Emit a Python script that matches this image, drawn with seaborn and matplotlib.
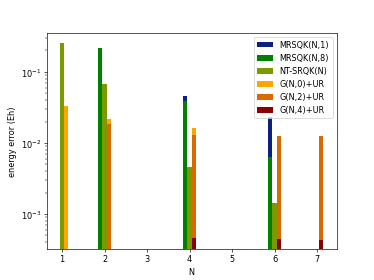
import numpy as np
import pandas as pd
import matplotlib
matplotlib.use("Agg")
import matplotlib.pyplot as plt
import seaborn as sns

# values (energy error in Eh), nan = no bar
N = [1, 2, 4, 6, 7]
mrsqk_1 = [np.nan, np.nan, 0.0458, 0.0231, np.nan]
mrsqk_8 = [np.nan, 0.215, 0.0389, 0.0063, np.nan]
nt_srqk = [0.252, 0.067, 0.00455, 0.00141, np.nan]
g_0_ur = [0.0328, 0.0215, 0.0162, np.nan, np.nan]
g_2_ur = [np.nan, 0.0182, 0.0129, 0.0124, 0.0124]
g_4_ur = [np.nan, np.nan, 0.000458, 0.00045, 0.00043]

series = [
    ("MRSQK(N,1)", mrsqk_1, -0.1, "#0b2180"),
    ("MRSQK(N,8)", mrsqk_8, -0.1, "#008000"),
    ("NT-SRQK(N)", nt_srqk, 0.0, "#7a9a00"),
    ("G(N,0)+UR", g_0_ur, 0.1, "#ffa500"),
    ("G(N,2)+UR", g_2_ur, 0.1, "#d96a00"),
    ("G(N,4)+UR", g_4_ur, 0.1, "#8b0000"),
]
bar_w = 0.1

# plain matplotlib look, like the original
plt.rcdefaults()
plt.rcParams["font.family"] = ["DejaVu Sans"]

fig, ax = plt.subplots(figsize=(6.4, 4.8), dpi=374 / 6.4)
ax.set_yscale("log")

for name, vals, off, col in series:
    df = pd.DataFrame({"pos": np.array(N) + off, "err": vals}).dropna()
    pos = np.sort(df["pos"].values)
    spacing = np.diff(pos).min() if len(pos) > 1 else 1.0
    sns.barplot(data=df, x="pos", y="err", native_scale=True,
                width=bar_w / spacing, color=col, saturation=1,
                linewidth=0, label=name, ax=ax, errorbar=None)

ax.set_xlim(0.64, 7.46)
ax.set_ylim(3.2e-4, 0.35)
ax.set_xticks(range(1, 8))
ax.set_xticklabels([str(i) for i in range(1, 8)])
ax.set_xlabel("N")
ax.set_ylabel("energy error (Eh)")
ax.legend(loc="upper right")

fig.savefig("out.png", dpi=374 / 6.4)
